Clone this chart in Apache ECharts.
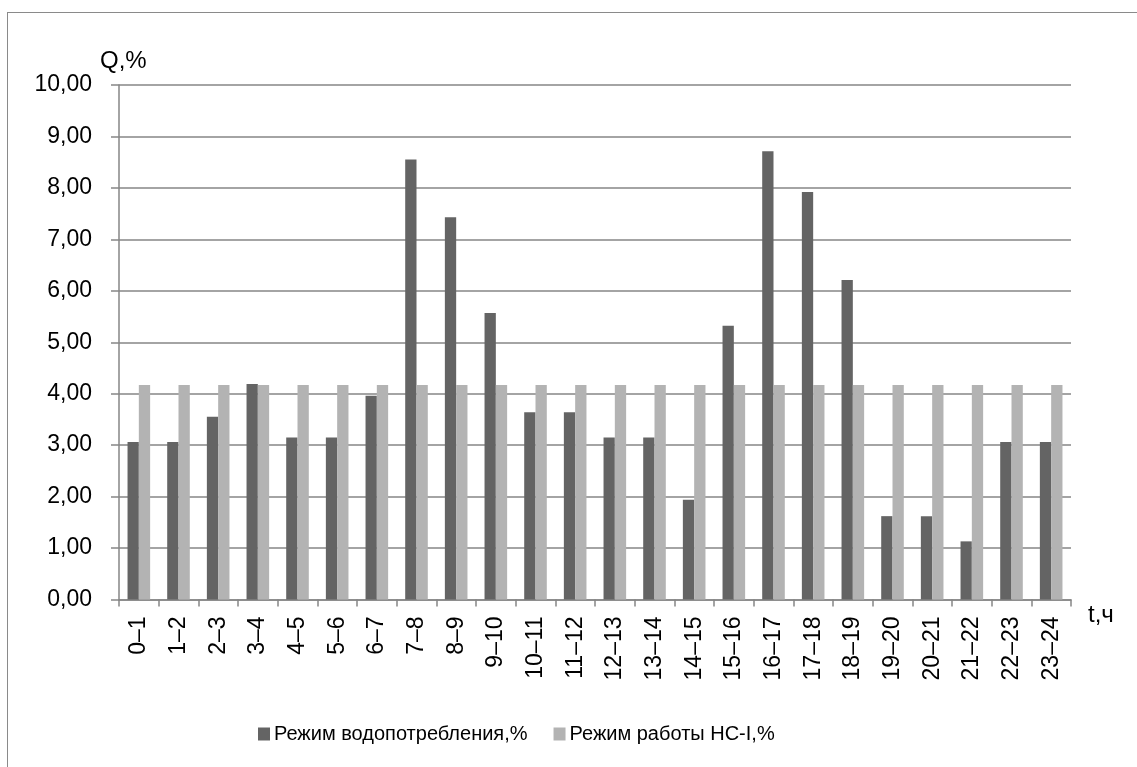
<!DOCTYPE html>
<html>
<head>
<meta charset="utf-8">
<script src="https://cdn.jsdelivr.net/npm/echarts@6/dist/echarts.min.js"></script>
<style>
  html, body { margin: 0; padding: 0; background: #fff; }
  #frame { position: absolute; left: 7px; top: 12px; width: 1140px; height: 770px;
           border-left: 1px solid #8a8a8a; border-top: 1px solid #8a8a8a; box-sizing: border-box; }
  #chart { position: absolute; left: 0; top: 0; width: 1137px; height: 767px; }
</style>
</head>
<body>
<div id="frame"></div>
<div id="chart"></div>
<script>
// Hourly intervals of the day
const hours = ['0–1','1–2','2–3','3–4','4–5','5–6','6–7','7–8','8–9','9–10','10–11','11–12',
               '12–13','13–14','14–15','15–16','16–17','17–18','18–19','19–20','20–21','21–22','22–23','23–24'];
// Water consumption by hour, % of daily volume
const consumption = [3.06, 3.06, 3.55, 4.19, 3.15, 3.15, 3.96, 8.55, 7.43, 5.57, 3.64, 3.64,
                     3.15, 3.15, 1.94, 5.32, 8.71, 7.92, 6.21, 1.62, 1.62, 1.13, 3.06, 3.06];
// Pumping station I operates uniformly: 100 / 24
const pumping = [4.17, 4.17, 4.17, 4.17, 4.17, 4.17, 4.17, 4.17, 4.17, 4.17, 4.17, 4.17,
                 4.17, 4.17, 4.17, 4.17, 4.17, 4.17, 4.17, 4.17, 4.17, 4.17, 4.17, 4.17];
const yTicks = { min: 0, max: 10, interval: 1 };

const FONT = 'Liberation Sans';
const chart = echarts.init(document.getElementById('chart'), null, { renderer: 'canvas' });
chart.setOption({
  animation: false,
  textStyle: { fontFamily: FONT, color: '#000' },
  grid: { left: 119, right: 66, top: 85, bottom: 167.5 },
  legend: {
    bottom: 18, left: 253,
    itemWidth: 12, itemHeight: 13, itemGap: 26,
    icon: 'rect',
    textStyle: { fontFamily: FONT, fontSize: 20, color: '#000', padding: [0, 0, 0, -1] },
    data: ['Режим водопотребления,%', 'Режим работы НС-I,%']
  },
  xAxis: {
    type: 'category',
    data: hours,
    name: 't,ч',
    nameLocation: 'end',
    nameGap: 17,
    nameTextStyle: { fontSize: 24, color: '#000', verticalAlign: 'top', padding: [4, 0, 0, 0] },
    axisLine: { lineStyle: { color: '#868686', width: 1.5 } },
    axisTick: { show: true, alignWithLabel: false, length: 7, lineStyle: { color: '#868686', width: 1.5 } },
    axisLabel: { rotate: 90, fontSize: 23, color: '#000', margin: 17, interval: 0 }
  },
  yAxis: {
    type: 'value',
    min: yTicks.min, max: yTicks.max, interval: yTicks.interval,
    name: 'Q,%',
    nameLocation: 'end',
    nameGap: 12,
    nameTextStyle: { fontSize: 24, color: '#000', align: 'left', padding: [0, 0, 0, -19] },
    axisLine: { show: true, lineStyle: { color: '#868686', width: 1.5 } },
    axisTick: { show: true, length: 8, lineStyle: { color: '#868686', width: 1.5 } },
    splitLine: { lineStyle: { color: '#868686', width: 1.5 } },
    axisLabel: { fontSize: 23, color: '#000', margin: 27,
                 formatter: v => v.toFixed(2).replace('.', ',') }
  },
  series: [
    { name: 'Режим водопотребления,%', type: 'bar', data: consumption,
      barWidth: 11.3, barGap: '0%', itemStyle: { color: '#646464' } },
    { name: 'Режим работы НС-I,%', type: 'bar', data: pumping,
      barWidth: 11.3, barGap: '0%', itemStyle: { color: '#b3b3b3' } }
  ]
});
</script>
</body>
</html>
